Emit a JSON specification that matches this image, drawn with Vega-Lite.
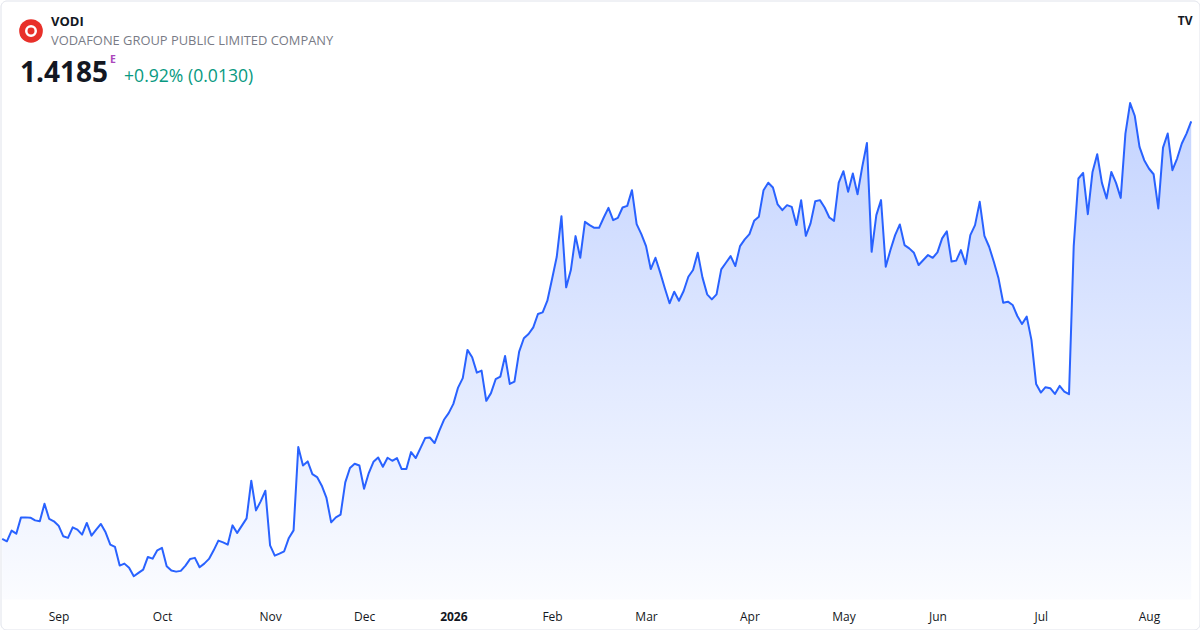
{
  "$schema": "https://vega.github.io/schema/vega-lite/v6.json",
  "width": 1199,
  "height": 629,
  "autosize": {"type": "none"},
  "padding": {"left": 0.5, "top": 0.5, "right": 0.5, "bottom": 0.5},
  "background": "#ffffff",
  "config": {
    "font": "Open Sans",
    "view": {"stroke": "#e0e3eb", "cornerRadius": 6}
  },
  "datasets": {
    "price": [
      {"i": 0, "close": 0.9751}, {"i": 1, "close": 0.9726}, {"i": 2, "close": 0.9839}, {"i": 3, "close": 0.9807}, {"i": 4, "close": 0.9980},
      {"i": 5, "close": 0.9980}, {"i": 6, "close": 0.9977}, {"i": 7, "close": 0.9948}, {"i": 8, "close": 0.9938}, {"i": 9, "close": 1.0125},
      {"i": 10, "close": 0.9963}, {"i": 11, "close": 0.9938}, {"i": 12, "close": 0.9892}, {"i": 13, "close": 0.9779}, {"i": 14, "close": 0.9762},
      {"i": 15, "close": 0.9874}, {"i": 16, "close": 0.9850}, {"i": 17, "close": 0.9797}, {"i": 18, "close": 0.9921}, {"i": 19, "close": 0.9786},
      {"i": 20, "close": 0.9850}, {"i": 21, "close": 0.9910}, {"i": 22, "close": 0.9821}, {"i": 23, "close": 0.9691}, {"i": 24, "close": 0.9666},
      {"i": 25, "close": 0.9468}, {"i": 26, "close": 0.9489}, {"i": 27, "close": 0.9444}, {"i": 28, "close": 0.9355}, {"i": 29, "close": 0.9391},
      {"i": 30, "close": 0.9426}, {"i": 31, "close": 0.9560}, {"i": 32, "close": 0.9542}, {"i": 33, "close": 0.9630}, {"i": 34, "close": 0.9656},
      {"i": 35, "close": 0.9461}, {"i": 36, "close": 0.9415}, {"i": 37, "close": 0.9404}, {"i": 38, "close": 0.9412}, {"i": 39, "close": 0.9468},
      {"i": 40, "close": 0.9539}, {"i": 41, "close": 0.9550}, {"i": 42, "close": 0.9450}, {"i": 43, "close": 0.9489}, {"i": 44, "close": 0.9539},
      {"i": 45, "close": 0.9630}, {"i": 46, "close": 0.9733}, {"i": 47, "close": 0.9715}, {"i": 48, "close": 0.9691}, {"i": 49, "close": 0.9895},
      {"i": 50, "close": 0.9815}, {"i": 51, "close": 0.9892}, {"i": 52, "close": 0.9969}, {"i": 53, "close": 1.0369}, {"i": 54, "close": 1.0054},
      {"i": 55, "close": 1.0150}, {"i": 56, "close": 1.0263}, {"i": 57, "close": 0.9683}, {"i": 58, "close": 0.9574}, {"i": 59, "close": 0.9595},
      {"i": 60, "close": 0.9620}, {"i": 61, "close": 0.9762}, {"i": 62, "close": 0.9842}, {"i": 63, "close": 1.0726}, {"i": 64, "close": 1.0531},
      {"i": 65, "close": 1.0574}, {"i": 66, "close": 1.0440}, {"i": 67, "close": 1.0408}, {"i": 68, "close": 1.0316}, {"i": 69, "close": 1.0186},
      {"i": 70, "close": 0.9927}, {"i": 71, "close": 0.9980}, {"i": 72, "close": 1.0009}, {"i": 73, "close": 1.0351}, {"i": 74, "close": 1.0504},
      {"i": 75, "close": 1.0549}, {"i": 76, "close": 1.0531}, {"i": 77, "close": 1.0284}, {"i": 78, "close": 1.0451}, {"i": 79, "close": 1.0570},
      {"i": 80, "close": 1.0616}, {"i": 81, "close": 1.0517}, {"i": 82, "close": 1.0613}, {"i": 83, "close": 1.0581}, {"i": 84, "close": 1.0610},
      {"i": 85, "close": 1.0493}, {"i": 86, "close": 1.0493}, {"i": 87, "close": 1.0673}, {"i": 88, "close": 1.0610}, {"i": 89, "close": 1.0716},
      {"i": 90, "close": 1.0822}, {"i": 91, "close": 1.0828}, {"i": 92, "close": 1.0769}, {"i": 93, "close": 1.0899}, {"i": 94, "close": 1.1016},
      {"i": 95, "close": 1.1087}, {"i": 96, "close": 1.1185}, {"i": 97, "close": 1.1358}, {"i": 98, "close": 1.1458}, {"i": 99, "close": 1.1758},
      {"i": 100, "close": 1.1680}, {"i": 101, "close": 1.1517}, {"i": 102, "close": 1.1538}, {"i": 103, "close": 1.1217}, {"i": 104, "close": 1.1299},
      {"i": 105, "close": 1.1447}, {"i": 106, "close": 1.1475}, {"i": 107, "close": 1.1694}, {"i": 108, "close": 1.1397}, {"i": 109, "close": 1.1422},
      {"i": 110, "close": 1.1740}, {"i": 111, "close": 1.1882}, {"i": 112, "close": 1.1927}, {"i": 113, "close": 1.1998}, {"i": 114, "close": 1.2139},
      {"i": 115, "close": 1.2157}, {"i": 116, "close": 1.2280}, {"i": 117, "close": 1.2510}, {"i": 118, "close": 1.2747}, {"i": 119, "close": 1.3178},
      {"i": 120, "close": 1.2422}, {"i": 121, "close": 1.2606}, {"i": 122, "close": 1.2966}, {"i": 123, "close": 1.2736}, {"i": 124, "close": 1.3118},
      {"i": 125, "close": 1.3083}, {"i": 126, "close": 1.3054}, {"i": 127, "close": 1.3054}, {"i": 128, "close": 1.3164}, {"i": 129, "close": 1.3266},
      {"i": 130, "close": 1.3136}, {"i": 131, "close": 1.3160}, {"i": 132, "close": 1.3270}, {"i": 133, "close": 1.3287}, {"i": 134, "close": 1.3454},
      {"i": 135, "close": 1.3093}, {"i": 136, "close": 1.2987}, {"i": 137, "close": 1.2860}, {"i": 138, "close": 1.2616}, {"i": 139, "close": 1.2736},
      {"i": 140, "close": 1.2581}, {"i": 141, "close": 1.2412}, {"i": 142, "close": 1.2253}, {"i": 143, "close": 1.2376}, {"i": 144, "close": 1.2280},
      {"i": 145, "close": 1.2383}, {"i": 146, "close": 1.2535}, {"i": 147, "close": 1.2606}, {"i": 148, "close": 1.2789}, {"i": 149, "close": 1.2528},
      {"i": 150, "close": 1.2348}, {"i": 151, "close": 1.2295}, {"i": 152, "close": 1.2348}, {"i": 153, "close": 1.2613}, {"i": 154, "close": 1.2683},
      {"i": 155, "close": 1.2754}, {"i": 156, "close": 1.2648}, {"i": 157, "close": 1.2860}, {"i": 158, "close": 1.2931}, {"i": 159, "close": 1.2987},
      {"i": 160, "close": 1.3128}, {"i": 161, "close": 1.3171}, {"i": 162, "close": 1.3454}, {"i": 163, "close": 1.3533}, {"i": 164, "close": 1.3482},
      {"i": 165, "close": 1.3302}, {"i": 166, "close": 1.3242}, {"i": 167, "close": 1.3295}, {"i": 168, "close": 1.3277}, {"i": 169, "close": 1.3083},
      {"i": 170, "close": 1.3348}, {"i": 171, "close": 1.2969}, {"i": 172, "close": 1.3101}, {"i": 173, "close": 1.3337}, {"i": 174, "close": 1.3348},
      {"i": 175, "close": 1.3270}, {"i": 176, "close": 1.3164}, {"i": 177, "close": 1.3128}, {"i": 178, "close": 1.3535}, {"i": 179, "close": 1.3655},
      {"i": 180, "close": 1.3436}, {"i": 181, "close": 1.3631}, {"i": 182, "close": 1.3411}, {"i": 183, "close": 1.3701}, {"i": 184, "close": 1.3955},
      {"i": 185, "close": 1.2800}, {"i": 186, "close": 1.3189}, {"i": 187, "close": 1.3348}, {"i": 188, "close": 1.2641}, {"i": 189, "close": 1.2818},
      {"i": 190, "close": 1.2977}, {"i": 191, "close": 1.3090}, {"i": 192, "close": 1.2871}, {"i": 193, "close": 1.2836}, {"i": 194, "close": 1.2789},
      {"i": 195, "close": 1.2659}, {"i": 196, "close": 1.2712}, {"i": 197, "close": 1.2765}, {"i": 198, "close": 1.2736}, {"i": 199, "close": 1.2793},
      {"i": 200, "close": 1.2942}, {"i": 201, "close": 1.3016}, {"i": 202, "close": 1.2696}, {"i": 203, "close": 1.2706}, {"i": 204, "close": 1.2818},
      {"i": 205, "close": 1.2669}, {"i": 206, "close": 1.2977}, {"i": 207, "close": 1.3083}, {"i": 208, "close": 1.3330}, {"i": 209, "close": 1.2969},
      {"i": 210, "close": 1.2853}, {"i": 211, "close": 1.2694}, {"i": 212, "close": 1.2518}, {"i": 213, "close": 1.2259}, {"i": 214, "close": 1.2270},
      {"i": 215, "close": 1.2235}, {"i": 216, "close": 1.2118}, {"i": 217, "close": 1.2033}, {"i": 218, "close": 1.2111}, {"i": 219, "close": 1.1864},
      {"i": 220, "close": 1.1397}, {"i": 221, "close": 1.1305}, {"i": 222, "close": 1.1362}, {"i": 223, "close": 1.1352}, {"i": 224, "close": 1.1291},
      {"i": 225, "close": 1.1376}, {"i": 226, "close": 1.1316}, {"i": 227, "close": 1.1288}, {"i": 228, "close": 1.2860}, {"i": 229, "close": 1.3578},
      {"i": 230, "close": 1.3637}, {"i": 231, "close": 1.3199}, {"i": 232, "close": 1.3648}, {"i": 233, "close": 1.3835}, {"i": 234, "close": 1.3531},
      {"i": 235, "close": 1.3366}, {"i": 236, "close": 1.3648}, {"i": 237, "close": 1.3531}, {"i": 238, "close": 1.3372}, {"i": 239, "close": 1.4055},
      {"i": 240, "close": 1.4379}, {"i": 241, "close": 1.4241}, {"i": 242, "close": 1.3913}, {"i": 243, "close": 1.3772}, {"i": 244, "close": 1.3684},
      {"i": 245, "close": 1.3623}, {"i": 246, "close": 1.3260}, {"i": 247, "close": 1.3906}, {"i": 248, "close": 1.4055}, {"i": 249, "close": 1.3666},
      {"i": 250, "close": 1.3790}, {"i": 251, "close": 1.3949}, {"i": 252, "close": 1.4055}, {"i": 253, "close": 1.4185}
    ]
  },
  "layer": [
    {
      "data": {"name": "price"},
      "mark": {
        "type": "area",
        "color": {
          "x1": 0, "y1": 0, "x2": 0, "y2": 1,
          "gradient": "linear",
          "stops": [
            {"offset": 0, "color": "rgba(41, 98, 255, 0.28)"},
            {"offset": 1, "color": "rgba(41, 98, 255, 0.02)"}
          ]
        }
      },
      "encoding": {
        "x": {
          "field": "i",
          "type": "quantitative",
          "scale": {"domain": [-0.3614, 254.764], "nice": false, "zero": false},
          "axis": {
            "title": null,
            "grid": false,
            "domain": false,
            "ticks": false,
            "tickSize": 0,
            "offset": -24,
            "labelPadding": 6,
            "labelFontSize": 12,
            "labelColor": "#131722",
            "labelFont": "Open Sans",
            "labelOverlap": false,
            "labelFlush": false,
            "values": [12, 34, 57, 77, 96, 117, 137, 159, 179, 199, 221, 244],
            "labelExpr": "{'12': 'Sep', '34': 'Oct', '57': 'Nov', '77': 'Dec', '96': '2026', '117': 'Feb', '137': 'Mar', '159': 'Apr', '179': 'May', '199': 'Jun', '221': 'Jul', '244': 'Aug'}[datum.value]",
            "labelFontWeight": {"condition": {"test": "datum.value == 96", "value": "bold"}, "value": "normal"}
          }
        },
        "y": {
          "field": "close",
          "type": "quantitative",
          "scale": {"domain": [0.87896, 1.54676], "nice": false, "zero": false},
          "axis": null
        },
        "y2": {"datum": 0.9108}
      }
    },
    {
      "data": {"name": "price"},
      "mark": {"type": "line", "color": "#2962ff", "strokeWidth": 2, "strokeJoin": "round"},
      "encoding": {
        "x": {"field": "i", "type": "quantitative"},
        "y": {"field": "close", "type": "quantitative"}
      }
    },
    {
      "data": {"values": [{}]},
      "mark": {"type": "point", "filled": true, "color": "#e8302a", "size": 560, "opacity": 1},
      "encoding": {"x": {"datum": 6.13}, "y": {"datum": 1.5144}}
    },
    {
      "data": {"values": [{}]},
      "mark": {"type": "point", "filled": false, "stroke": "#ffffff", "strokeWidth": 2.5, "size": 90, "opacity": 1},
      "encoding": {"x": {"datum": 6.13}, "y": {"datum": 1.5144}}
    },
    {
      "data": {"values": [{"t": "VODI"}]},
      "mark": {"type": "text", "align": "left", "baseline": "alphabetic", "fontSize": 13, "fontWeight": "bold", "color": "#131722"},
      "encoding": {"x": {"datum": 10.38}, "y": {"datum": 1.5197}, "text": {"field": "t"}}
    },
    {
      "data": {"values": [{"t": "VODAFONE GROUP PUBLIC LIMITED COMPANY"}]},
      "mark": {"type": "text", "align": "left", "baseline": "alphabetic", "fontSize": 12.9, "color": "#787b86"},
      "encoding": {"x": {"datum": 10.38}, "y": {"datum": 1.4995}, "text": {"field": "t"}}
    },
    {
      "data": {"values": [{"t": "1.4185"}]},
      "mark": {"type": "text", "align": "left", "baseline": "alphabetic", "fontSize": 28, "fontWeight": "bold", "color": "#131722"},
      "encoding": {"x": {"datum": 3.79}, "y": {"datum": 1.4602}, "text": {"field": "t"}}
    },
    {
      "data": {"values": [{"t": "E"}]},
      "mark": {"type": "text", "align": "left", "baseline": "alphabetic", "fontSize": 10.5, "fontWeight": "bold", "color": "#ab47bc"},
      "encoding": {"x": {"datum": 22.94}, "y": {"datum": 1.4802}, "text": {"field": "t"}}
    },
    {
      "data": {"values": [{"t": "+0.92% (0.0130)"}]},
      "mark": {"type": "text", "align": "left", "baseline": "alphabetic", "fontSize": 17.6, "color": "#089981"},
      "encoding": {"x": {"datum": 25.92}, "y": {"datum": 1.4607}, "text": {"field": "t"}}
    },
    {
      "data": {"values": [{"t": "TV"}]},
      "mark": {"type": "text", "align": "center", "baseline": "middle", "fontSize": 12, "fontWeight": "bold", "color": "#131722"},
      "encoding": {"x": {"datum": 251.7}, "y": {"datum": 1.525}, "text": {"field": "t"}}
    }
  ]
}
